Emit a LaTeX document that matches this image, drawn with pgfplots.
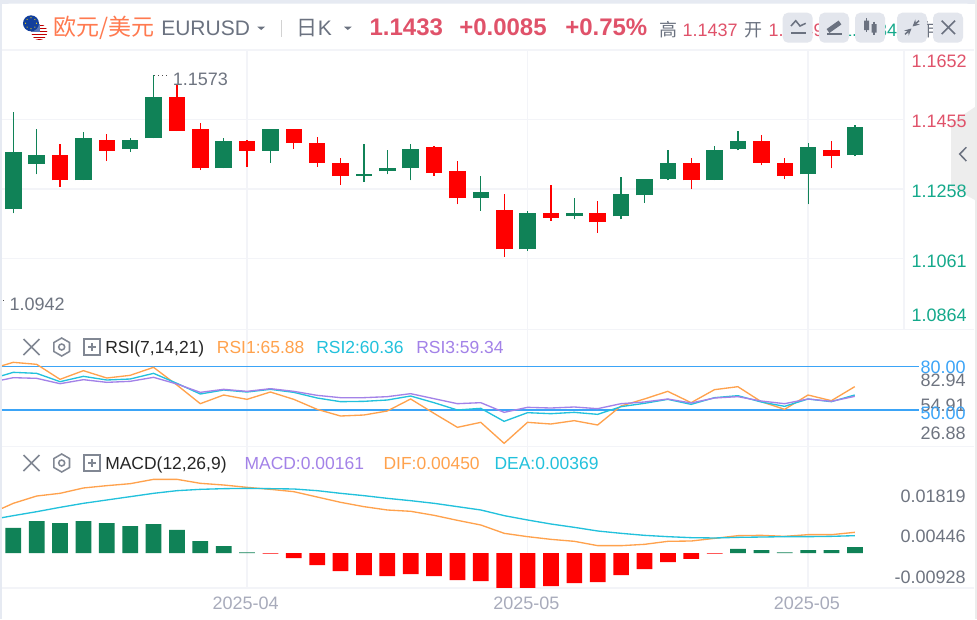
\documentclass[border=0pt]{standalone}
\usepackage{fontspec}
\usepackage{pgfplots}
\usepackage{pgfplotstable}
\pgfplotsset{compat=1.18}
\usetikzlibrary{arrows.meta}
\setmainfont{Liberation Sans}
\newfontfamily\cjk{Noto Sans CJK SC}

\definecolor{upgreen}{HTML}{108257}
\definecolor{downred}{HTML}{FF0000}
\definecolor{gridc}{HTML}{F3F4F8}
\definecolor{framec}{HTML}{E6EAF2}
\definecolor{headred}{HTML}{E0526A}
\definecolor{lblgreen}{HTML}{14A98B}
\definecolor{lblgray}{HTML}{6E7480}
\definecolor{datec}{HTML}{A8ABBB}
\definecolor{iconc}{HTML}{6B7280}
\definecolor{btnc}{HTML}{E3E6ED}
\definecolor{rsiorange}{HTML}{FFA24D}
\definecolor{rsicyan}{HTML}{22C1DC}
\definecolor{rsipurple}{HTML}{A382E8}
\definecolor{levelblue}{HTML}{3BA4F7}
\definecolor{eurblue}{HTML}{123F9C}
\definecolor{nameorange}{HTML}{FF7A50}

% daily candles, x is the bar number
\pgfplotstableread{
x o h l c
0 1.12008 1.14767 1.11886 1.13624
1 1.13284 1.14267 1.12991 1.13539
3 1.12821 1.14182 1.12821 1.14011
5 1.13709 1.14011 1.13624 1.13964
6 1.14011 1.15807 1.14011 1.15192
9 1.13161 1.14011 1.13161 1.13926
11 1.13662 1.14267 1.13322 1.14267
15 1.12953 1.13841 1.12774 1.12991
16 1.13076 1.13671 1.12991 1.13161
17 1.13161 1.13841 1.12821 1.13709
20 1.12311 1.12944 1.11961 1.12481
22 1.10865 1.11961 1.10827 1.11886
24 1.11801 1.12311 1.11716 1.11886
26 1.11801 1.12906 1.11716 1.12434
27 1.12396 1.12859 1.12188 1.12859
28 1.12859 1.13671 1.12821 1.13322
30 1.12821 1.13794 1.12821 1.13671
31 1.13709 1.14219 1.13671 1.13926
34 1.12991 1.13879 1.12141 1.13756
36 1.13539 1.14389 1.13501 1.14342
}\upcandles
\pgfplotstableread{
x o h l c
2 1.13539 1.13841 1.12642 1.12821
4 1.13964 1.14134 1.13369 1.13662
7 1.15192 1.15523 1.14219 1.14219
8 1.14267 1.14437 1.13114 1.13161
10 1.13926 1.13964 1.13208 1.13662
12 1.14267 1.14267 1.13709 1.13879
13 1.13879 1.14049 1.13208 1.13322
14 1.13322 1.13454 1.12689 1.12944
18 1.13756 1.13794 1.12953 1.13029
19 1.13076 1.13369 1.12141 1.12311
21 1.11971 1.12434 1.10657 1.10865
23 1.11886 1.12689 1.11678 1.11753
25 1.11886 1.12226 1.11338 1.11631
29 1.13322 1.13454 1.12566 1.12821
32 1.13926 1.14096 1.13246 1.13322
33 1.13322 1.13454 1.12859 1.12944
35 1.13671 1.13926 1.13161 1.13501
}\downcandles

\pgfplotstableread{
x rsia rsib rsic
-0.48 80.69 73.77 70.77
0 83.00 76.08 72.38
1 81.62 75.38 71.92
2 71.23 69.62 68.23
3 77.23 73.31 71.00
4 72.15 70.77 69.15
5 74.00 71.46 69.85
6 79.54 75.38 72.62
7 67.31 68.46 68.00
8 54.38 61.08 62.23
9 60.38 63.85 64.31
10 57.38 62.46 62.92
11 62.46 64.31 64.77
12 57.38 62.23 62.92
13 50.46 58.31 60.15
14 45.85 55.77 58.54
15 46.54 56.00 58.54
16 49.31 56.92 59.23
17 57.62 59.69 61.31
18 47.69 55.08 57.85
19 38.00 50.00 54.38
20 41.46 51.15 55.08
21 26.92 42.15 48.38
22 41.46 48.15 51.85
23 40.31 47.46 51.38
24 42.62 48.38 52.08
25 39.62 47.00 50.92
26 52.77 52.31 54.38
27 57.62 54.62 55.54
28 62.92 57.38 57.62
29 55.08 53.92 54.85
30 64.08 58.54 58.31
31 66.15 59.92 59.23
32 55.77 55.54 56.23
33 50.46 52.54 54.38
34 60.38 57.62 57.62
35 56.46 55.77 56.00
36 66.15 60.38 59.46
}\rsidata

\pgfplotstableread{
x dif dea
-0.48 0.00978 0.00774
0 0.01088 0.00818
1 0.01248 0.00905
2 0.01307 0.01000
3 0.01424 0.01088
4 0.01475 0.01161
5 0.01518 0.01234
6 0.01613 0.01307
7 0.01613 0.01365
8 0.01526 0.01394
9 0.01489 0.01409
10 0.01438 0.01416
11 0.01394 0.01409
12 0.01343 0.01402
13 0.01226 0.01365
14 0.01110 0.01307
15 0.01015 0.01256
16 0.00942 0.01197
17 0.00913 0.01146
18 0.00825 0.01088
19 0.00715 0.01015
20 0.00613 0.00942
21 0.00431 0.00818
22 0.00358 0.00723
23 0.00299 0.00635
24 0.00256 0.00562
25 0.00161 0.00482
26 0.00161 0.00431
27 0.00190 0.00387
28 0.00256 0.00358
29 0.00263 0.00336
30 0.00321 0.00329
31 0.00380 0.00343
32 0.00387 0.00350
33 0.00365 0.00358
34 0.00402 0.00358
35 0.00402 0.00365
36 0.00453 0.00380
}\macdlines
\pgfplotstableread{
x v
0 0.00548
1 0.00701
2 0.00657
3 0.00701
4 0.00657
5 0.00591
6 0.00635
7 0.00504
8 0.00263
9 0.00153
10 0.00015
31 0.00088
32 0.00066
33 0.00015
34 0.00066
35 0.00066
36 0.00131
}\macdpos
\pgfplotstableread{
x v
11 -0.00015
12 -0.00110
13 -0.00263
14 -0.00394
15 -0.00482
16 -0.00504
17 -0.00460
18 -0.00504
19 -0.00591
20 -0.00613
21 -0.00788
22 -0.00767
23 -0.00723
24 -0.00657
25 -0.00635
26 -0.00482
27 -0.00350
28 -0.00197
29 -0.00131
30 -0.00015
}\macdneg

% shared look of the three panels
\pgfplotsset{
  panel/.style={
    scale only axis,
    anchor=north west,
    xmin=-0.483,
    axis line style={draw=none},
    tick style={draw=none},
    xtick={10,22,34},
    xticklabels={},
    xmajorgrids,
    major grid style={draw=gridc,line width=1.1pt},
    ytick=\empty,
  },
  candle wick/.style={
    draw=none,mark=none,forget plot,
    error bars/.cd,y dir=plus,y explicit,error mark=none,
    error bar style={draw=#1,solid,line width=0.95pt},
  },
  candle body/.style={
    draw=none,mark=none,forget plot,
    error bars/.cd,y dir=plus,y explicit,error mark=none,
    error bar style={draw=#1,solid,line width=12.4pt},
  },
}

% position in reference pixels, text size in pt
\newcommand\lbl[6]{\node[anchor=#1,inner sep=0pt,text=#4,font=\fontsize{#5}{#5}\selectfont] at (#2,#3) {#6};}
\newcommand\rowicons[1]{%
  \draw[iconc!85,line width=1.15pt] (23.5,#1-8) -- (39.5,#1+8) (39.5,#1-8) -- (23.5,#1+8);
  \draw[iconc!85,line width=1.15pt,shift={(61.7,#1)}] (90:9) -- (30:9) -- (-30:9) -- (-90:9) -- (-150:9) -- (150:9) -- cycle (0,0) circle[radius=3];
  \draw[iconc!85,line width=1.15pt] (84,#1-8) rectangle (100,#1+8) (88,#1) -- (96,#1) (92,#1-4) -- (92,#1+4);
}
\newcommand\button[1]{\fill[btnc,rounded corners=4pt] (#1,12.7) rectangle ++(30,30);}

\begin{document}
\begin{tikzpicture}[x=0.75pt,y=-0.75pt]
\path[use as bounding box] (0,0) rectangle (977,619);
\fill[white] (0,0) rectangle (977,619);
% page frame and card
\fill[framec] (0,0) rectangle (977,4);
\fill[framec] (0,0) rectangle (2,619);
\fill[white,rounded corners=6pt] (2,3.5) rectangle (974,640);
\fill[gray!15] (974.5,0) rectangle (977,619);
% side tab
\fill[gray!14] (951,123) -- (975,107) -- (975,200) -- (951,187) -- cycle;
\draw[iconc,line width=1.15pt] (966.3,147.3) -- (959.7,154) -- (966.3,161);
% panel separators
\draw[gridc,line width=1.1pt] (2,50) -- (974,50) (2,329.3) -- (974,329.3) (904,50) -- (904,329.3) (2,446.7) -- (974,446.7);
\draw[gridc,line width=1.6pt] (2,588) -- (974,588);

% price panel
\begin{axis}[panel,at={(1.5pt,-37.5pt)},width=676.5pt,height=209.5pt,
  xmax=38.1,ymin=1.08598,ymax=1.16515,
  ytick={1.1455,1.1258,1.1061},yticklabels={},ymajorgrids]
  \addplot[candle wick=upgreen] table[x=x,y=l,y error plus expr=\thisrow{h}-\thisrow{l}] {\upcandles};
  \addplot[candle body=upgreen] table[x=x,y=o,y error plus expr=\thisrow{c}-\thisrow{o}] {\upcandles};
  \addplot[candle wick=downred] table[x=x,y=l,y error plus expr=\thisrow{h}-\thisrow{l}] {\downcandles};
  \addplot[candle body=downred] table[x=x,y=c,y error plus expr=\thisrow{o}-\thisrow{c}] {\downcandles};
\end{axis}

% RSI panel
\begin{axis}[panel,at={(1.5pt,-247.5pt)},width=687.75pt,height=87.5pt,
  xmax=38.75,ymin=24.62,ymax=105.38]
  \addplot[levelblue,line width=0.95pt,forget plot] coordinates {(-0.483,80) (38.75,80)};
  \addplot[levelblue,line width=1.5pt,forget plot] coordinates {(-0.483,50) (38.75,50)};
  \addplot[rsiorange,line width=1pt] table[x=x,y=rsia] {\rsidata};
  \addplot[rsicyan,line width=1pt] table[x=x,y=rsib] {\rsidata};
  \addplot[rsipurple,line width=1pt] table[x=x,y=rsic] {\rsidata};
\end{axis}

% MACD panel
\begin{axis}[panel,at={(1.5pt,-335.25pt)},width=676.5pt,height=105.5pt,
  xmax=38.1,ymin=-0.00759,ymax=0.02321,
  xticklabels={2025-04,2025-05,2025-05},
  xticklabel style={font=\fontsize{13.5}{13.5}\selectfont,text=datec,yshift=-3.25pt,xshift=-1pt}]
  \addplot[ybar,bar width=11.8pt,bar shift=0pt,fill=upgreen,draw=none] table[x=x,y=v] {\macdpos};
  \addplot[ybar,bar width=11.8pt,bar shift=0pt,fill=downred,draw=none] table[x=x,y=v] {\macdneg};
  \addplot[rsiorange,line width=1pt] table[x=x,y=dif] {\macdlines};
  \addplot[rsicyan,line width=1pt] table[x=x,y=dea] {\macdlines};
\end{axis}

% price labels
\lbl{base east}{967}{67.5}{headred}{13.5}{1.1652}
\lbl{base east}{967}{127.5}{headred}{13.5}{1.1455}
\lbl{base east}{967}{197.8}{lblgreen}{13.5}{1.1258}
\lbl{base east}{967}{267.5}{lblgreen}{13.5}{1.1061}
\lbl{base east}{967}{321.5}{lblgreen}{13.5}{1.0864}
% extremes
\draw[black!70,line width=0.75pt,dash pattern=on 1pt off 2pt] (154,75) -- (169,75);
\lbl{base west}{172.6}{85.8}{lblgray}{13.5}{1.1573}
\fill[black!70] (3,299.5) rectangle (4.2,301);
\lbl{base west}{9.3}{310.5}{lblgray}{13.5}{1.0942}
% RSI scale
\lbl{base east}{966}{386.5}{lblgray}{13.5}{82.94}
\lbl{base east}{966}{411.5}{lblgray}{13.5}{54.91}
\lbl{base east}{966}{439.5}{lblgray}{13.5}{26.88}
\lbl{base east}{966}{373}{levelblue}{13.5}{80.00}
\lbl{base east}{966}{419.5}{levelblue}{13.5}{50.00}
% MACD scale
\lbl{base east}{966}{502.2}{lblgray}{13.5}{0.01819}
\lbl{base east}{966}{542.5}{lblgray}{13.5}{0.00446}
\lbl{base east}{966}{583.2}{lblgray}{13.5}{-0.00928}

% indicator rows
\rowicons{347}
\lbl{base west}{105}{353}{black!85}{13.1}{RSI(7,14,21)}
\lbl{base west}{216.7}{353}{rsiorange}{13.1}{RSI1:65.88}
\lbl{base west}{316}{353}{rsicyan}{13.1}{RSI2:60.36}
\lbl{base west}{416}{353}{rsipurple}{13.1}{RSI3:59.34}
\rowicons{463}
\lbl{base west}{105}{469}{black!85}{13.1}{MACD(12,26,9)}
\lbl{base west}{244.3}{469}{rsipurple}{13.1}{MACD:0.00161}
\lbl{base west}{383.3}{469}{rsiorange}{13.1}{DIF:0.00450}
\lbl{base west}{494.3}{469}{rsicyan}{13.1}{DEA:0.00369}

% flags
\begin{scope}
  \clip (39.3,32) circle[radius=8];
  \fill[white] (30,22) rectangle (49,42);
  \foreach \s in {24.5,27.5,30.5,33.5,36.5,39} \fill[red!75!black] (30,\s) rectangle (49,\s+1.5);
  \fill[eurblue!70] (30,22) rectangle (39.5,31.5);
\end{scope}
\fill[eurblue] (31,23.3) circle[radius=8];
\foreach \a in {0,45,...,315} \fill[yellow!80!orange] (31,23.3) ++(\a:5.5) circle[radius=0.6];

% header
\lbl{base west}{53}{35.5}{nameorange}{17.25}{{\cjk 欧元/美元}}
\lbl{base west}{161}{35.5}{iconc}{15.75}{EURUSD}
\fill[iconc] (257.3,26.7) -- (265,26.7) -- (261.2,30) -- cycle;
\draw[gray!35,line width=1pt] (281.7,20) -- (281.7,36.5);
\lbl{base west}{296.5}{35.5}{iconc}{15.75}{{\cjk 日}K}
\fill[iconc] (344,26.7) -- (351.7,26.7) -- (347.8,30) -- cycle;
\lbl{base west}{369.3}{35}{headred}{18}{\bfseries 1.1433}
\lbl{base west}{459}{35}{headred}{18}{\bfseries +0.0085}
\lbl{base west}{565}{35}{headred}{18}{\bfseries +0.75\%}
\lbl{base west}{659.3}{36}{iconc}{13.5}{{\cjk 高}}
\lbl{base west}{682.3}{36}{headred}{13.5}{1.1437}
\lbl{base west}{744.3}{36}{iconc}{13.5}{{\cjk 开}}
\lbl{base west}{768.3}{36}{headred}{13.5}{1.1349}
\lbl{base west}{828}{36}{iconc}{13.5}{{\cjk 低}}
\lbl{base east}{897.5}{36}{lblgreen}{13.5}{1.1334}
\lbl{base west}{917}{36}{iconc}{13.5}{{\cjk 昨}}

% toolbar buttons
\button{782.7}\button{819}\button{855}\button{897}\button{933}
\draw[iconc,line width=1.15pt] (791,26) -- (795.7,20.7) -- (800,26) -- (805.7,23.3);
\draw[iconc,line width=1.5pt] (791,33.3) -- (805.7,33.3);
\draw[iconc,line width=3.6pt] (828,31) -- (840,22.5);
\draw[iconc,line width=1.5pt] (827,33.6) -- (842,33.6);
\draw[iconc,line width=1pt] (866.7,18.3) -- (866.7,32.3) (874,21.7) -- (874,35);
\fill[iconc] (864.2,20.7) rectangle (869.2,30) (871.5,24) rectangle (876.5,32.7);
\draw[iconc,line width=1.1pt,-{Stealth[length=5pt,width=5pt]}] (905,34.3) -- (911.5,28.5);
\draw[iconc,line width=1.1pt,-{Stealth[length=5pt,width=5pt]}] (919,20.7) -- (912.5,26.5);
\draw[iconc,line width=1.15pt] (941.7,20.7) -- (955,34) (955,20.7) -- (941.7,34);
\end{tikzpicture}
\end{document}
